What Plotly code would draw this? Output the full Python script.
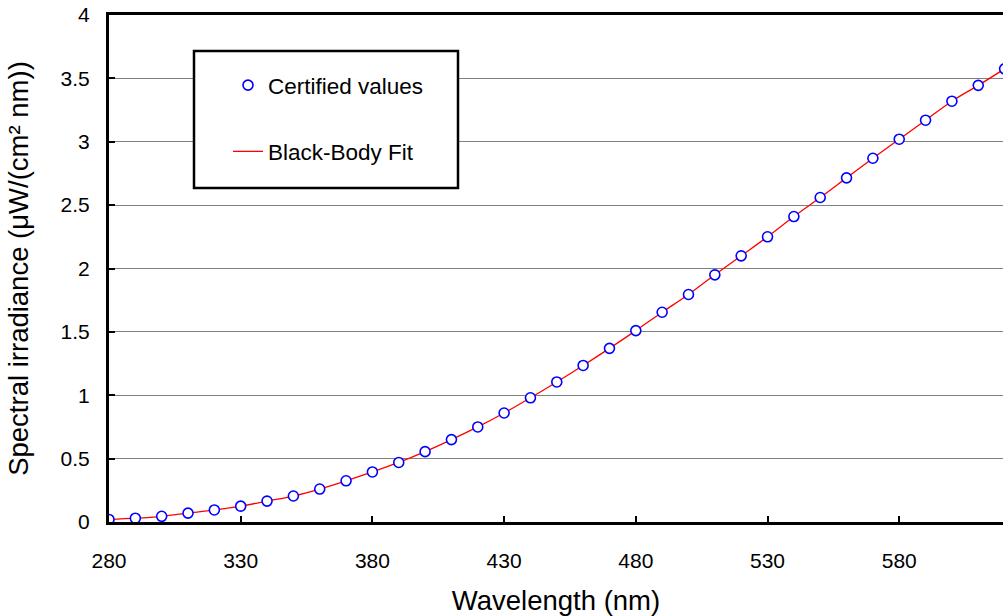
import plotly.graph_objects as go

wavelength = [280, 290, 300, 310, 320, 330, 340, 350, 360, 370, 380, 390, 400, 410, 420,
              430, 440, 450, 460, 470, 480, 490, 500, 510, 520, 530, 540, 550, 560, 570,
              580, 590, 600, 610, 620]
certified = [0.02, 0.03, 0.045, 0.07, 0.095, 0.125, 0.165, 0.205, 0.26, 0.325, 0.395, 0.47,
             0.555, 0.65, 0.75, 0.86, 0.98, 1.105, 1.235, 1.37, 1.51, 1.655, 1.795, 1.95,
             2.10, 2.25, 2.41, 2.56, 2.715, 2.87, 3.02, 3.17, 3.32, 3.445, 3.575]
fit = list(certified)

x_ticks = [280, 330, 380, 430, 480, 530, 580]
y_ticks = [0, 0.5, 1, 1.5, 2, 2.5, 3, 3.5, 4]
y_tick_text = ["0", "0.5", "1", "1.5", "2", "2.5", "3", "3.5", "4"]

FONT = "Liberation Sans, Arial, sans-serif"

W, H = 1003, 616
L, T, R, B = 109, 15, 1003, 522
PW, PH = R - L, B - T

def px(x):
    return (x - L) / PW

def py(y):
    return (B - y) / PH

fig = go.Figure()
fig.add_trace(go.Scatter(
    x=wavelength, y=fit, mode="lines", name="Black-Body Fit",
    legendgroup="b", legendrank=2,
    line=dict(color="#ff0000", width=1.3, shape="spline"),
))
fig.add_trace(go.Scatter(
    x=wavelength, y=certified, mode="markers", name="Certified values",
    legendgroup="a", legendrank=1,
    marker=dict(symbol="circle", size=10, color="white",
                line=dict(color="#0000ff", width=1.6)),
))

fig.update_layout(
    width=W, height=H,
    margin=dict(l=L, r=W - R, t=T, b=H - B, autoexpand=False),
    paper_bgcolor="white", plot_bgcolor="white",
    font=dict(family=FONT, color="black", size=21),
    showlegend=True,
    legend=dict(
        x=px(228), y=py(64), xanchor="left", yanchor="top",
        bgcolor="rgba(0,0,0,0)", borderwidth=0,
        font=dict(size=22.5, family=FONT),
        tracegroupgap=34, traceorder="grouped",
    ),
    xaxis=dict(
        range=[280, 619.4], tickmode="array", tickvals=x_ticks,
        ticks="inside", ticklen=6, tickwidth=2, tickcolor="black",
        showline=True, linecolor="black", linewidth=3, mirror=True,
        showgrid=False, zeroline=False, automargin=False,
        ticklabelstandoff=18, ticklabeloverflow="allow",
        tickfont=dict(size=21, family=FONT),
        title=dict(text="Wavelength (nm)", font=dict(size=27.5, family=FONT), standoff=21),
    ),
    yaxis=dict(
        range=[0, 4], tickmode="array", tickvals=y_ticks, ticktext=y_tick_text,
        ticks="inside", ticklen=6, tickwidth=2, tickcolor="black",
        showline=True, linecolor="black", linewidth=3, mirror=False,
        showgrid=True, gridcolor="#808080", gridwidth=1.2, zeroline=False, automargin=False,
        ticklabelstandoff=12, ticklabeloverflow="allow",
        tickfont=dict(size=21, family=FONT),
        title=dict(text="Spectral irradiance (μW/(cm² nm))", font=dict(size=27.5, family=FONT), standoff=24),
    ),
    shapes=[dict(
        type="rect", xref="paper", yref="paper",
        x0=px(194), x1=px(458), y0=py(188), y1=py(51),
        line=dict(color="black", width=2.5), fillcolor="white", layer="above",
    )],
)

fig.write_html(
    "out.html",
    config={"displayModeBar": False},
    post_script="document.body.style.margin='0';document.body.style.overflow='hidden';",
)
